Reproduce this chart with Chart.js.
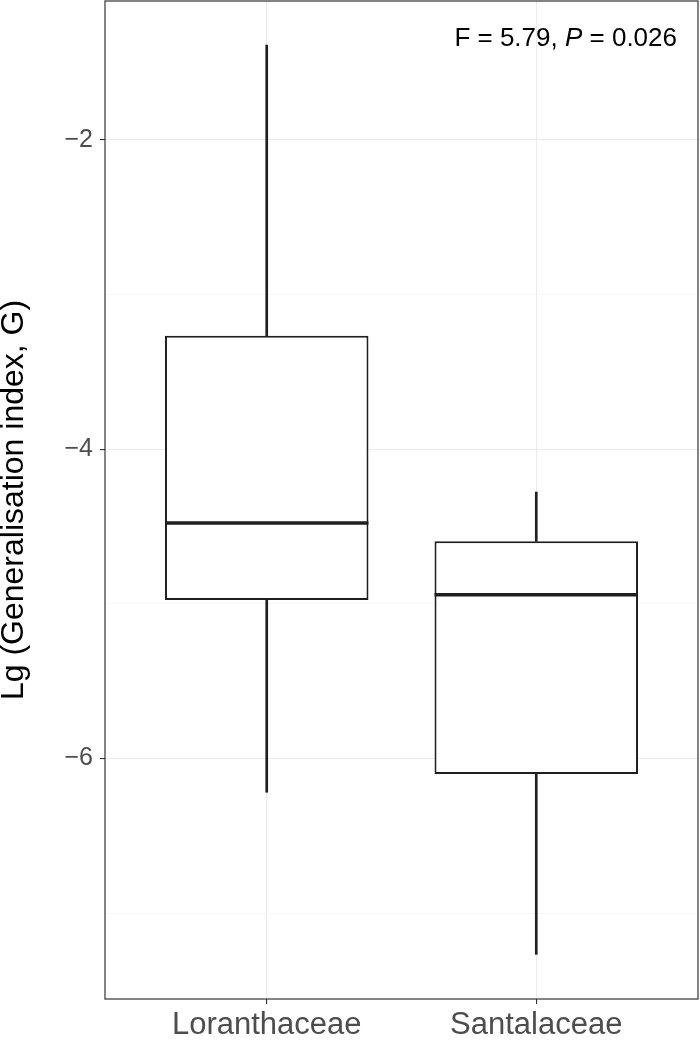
<!DOCTYPE html>
<html>
<head>
<meta charset="utf-8">
<script src="https://cdn.jsdelivr.net/npm/chart.js@4/dist/chart.umd.min.js"></script>
<style>
  body { margin: 0; background: #fff; }
  canvas { display: block; }
</style>
</head>
<body>
<canvas id="chart" width="700" height="1040"></canvas>
<script>
// data
const families = ['Loranthaceae', 'Santalaceae'];
const familyPos = [1, 2];
const whiskerHigh = [-1.386, -4.277];
const boxUpper = [-3.266, -4.596];
const medians = [-4.477, -4.941];
const boxLower = [-4.975, -6.101];
const whiskerLow = [-6.219, -7.267];
const yTicks = [-7, -6, -5, -4, -3, -2];
const yLabelled = [-6, -4, -2];
const yRange = [-7.556, -1.101];
const xRange = [0.4, 2.6];

const ink = '#1f1f1f';
const tickText = '#4d4d4d';
const fontFamily = '"Liberation Sans", Arial, sans-serif';

function pairs(lo, hi) {
    return familyPos.map((x, i) => ({ x: x, y: [lo[i], hi[i]] }));
}

// median line + panel border + stat text
const extras = {
    id: 'extras',
    afterDatasetsDraw(chart) {
        const ctx = chart.ctx;
        const yScale = chart.scales.y;
        const boxes = chart.getDatasetMeta(2).data;
        ctx.save();
        ctx.strokeStyle = ink;
        ctx.lineWidth = 3.5;
        boxes.forEach((bar, i) => {
            const y = yScale.getPixelForValue(medians[i]);
            ctx.beginPath();
            ctx.moveTo(bar.x - bar.width / 2, y);
            ctx.lineTo(bar.x + bar.width / 2, y);
            ctx.stroke();
        });
        ctx.restore();
    },
    afterDraw(chart) {
        const ctx = chart.ctx;
        const a = chart.chartArea;
        ctx.save();
        ctx.strokeStyle = '#333333';
        ctx.lineWidth = 1.2;
        ctx.strokeRect(a.left, a.top, a.right - a.left, a.bottom - a.top);

        // "F = 5.79, P = 0.026" with italic P, right aligned
        const parts = [
            ['F = 5.79, ', 'normal'],
            ['P', 'italic'],
            [' = 0.026', 'normal']
        ];
        const size = 26;
        let total = 0;
        parts.forEach(p => {
            ctx.font = p[1] + ' ' + size + 'px ' + fontFamily;
            total += ctx.measureText(p[0]).width;
        });
        let x = a.right - 21 - total;
        const y = a.top + 45;
        ctx.fillStyle = '#000';
        ctx.textBaseline = 'alphabetic';
        ctx.textAlign = 'left';
        parts.forEach(p => {
            ctx.font = p[1] + ' ' + size + 'px ' + fontFamily;
            ctx.fillText(p[0], x, y);
            x += ctx.measureText(p[0]).width;
        });
        ctx.restore();
    }
};

new Chart(document.getElementById('chart'), {
    type: 'bar',
    data: {
        datasets: [
            {
                label: 'upper whisker',
                data: pairs(boxUpper, whiskerHigh),
                backgroundColor: ink,
                barThickness: 2,
                grouped: false
            },
            {
                label: 'lower whisker',
                data: pairs(whiskerLow, boxLower),
                backgroundColor: ink,
                barThickness: 2,
                grouped: false
            },
            {
                label: 'box',
                data: pairs(boxLower, boxUpper),
                backgroundColor: '#ffffff',
                borderColor: ink,
                borderWidth: 2,
                borderSkipped: false,
                barPercentage: 0.755,
                categoryPercentage: 1,
                grouped: false
            }
        ]
    },
    options: {
        responsive: false,
        animation: false,
        layout: { padding: { top: 1, right: 2, left: 0, bottom: 0 } },
        plugins: {
            legend: { display: false },
            tooltip: { enabled: false }
        },
        scales: {
            x: {
                type: 'linear',
                offset: false,
                min: xRange[0],
                max: xRange[1],
                afterBuildTicks: scale => {
                    scale.ticks = familyPos.map(v => ({ value: v }));
                },
                afterFit: scale => {
                    scale.height = 41;
                    scale.paddingLeft = 0;
                    scale.paddingRight = 0;
                },
                border: { display: false },
                grid: {
                    offset: false,
                    color: '#ebebeb',
                    lineWidth: 1.1,
                    tickLength: 5,
                    tickColor: '#333333'
                },
                ticks: {
                    autoSkip: false,
                    maxRotation: 0,
                    padding: 3,
                    color: tickText,
                    font: { family: fontFamily, size: 31 },
                    callback: v => families[familyPos.indexOf(v)]
                }
            },
            y: {
                min: yRange[0],
                max: yRange[1],
                afterBuildTicks: scale => {
                    scale.ticks = yTicks.map(v => ({ value: v }));
                },
                afterFit: scale => {
                    scale.width = 105;
                    scale.paddingTop = 0;
                    scale.paddingBottom = 0;
                },
                border: { display: false },
                grid: {
                    color: ctx => yLabelled.includes(ctx.tick.value) ? '#ebebeb' : '#f4f4f4',
                    lineWidth: ctx => yLabelled.includes(ctx.tick.value) ? 1.1 : 0.7,
                    tickLength: 5,
                    tickColor: ctx => yLabelled.includes(ctx.tick.value) ? '#333333' : 'rgba(0,0,0,0)'
                },
                ticks: {
                    autoSkip: false,
                    padding: 7,
                    color: tickText,
                    font: { family: fontFamily, size: 25 },
                    callback: v => yLabelled.includes(v) ? '\u2212' + Math.abs(v) : ''
                },
                title: {
                    display: true,
                    text: 'Lg (Generalisation index, G)',
                    color: '#000',
                    padding: { top: 1, bottom: 0 },
                    font: { family: fontFamily, size: 32, lineHeight: 0.8 }
                }
            }
        }
    },
    plugins: [extras]
});
</script>
</body>
</html>
